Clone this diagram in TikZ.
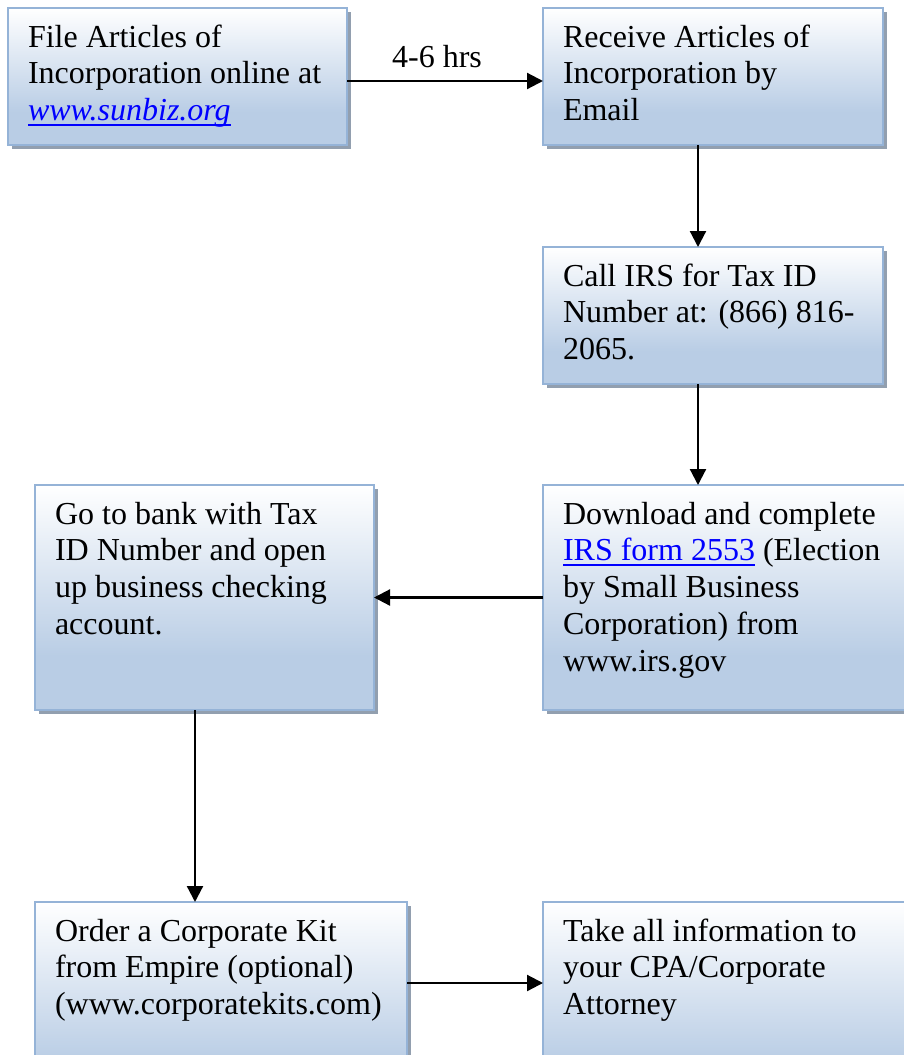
\documentclass[tikz,border=0pt]{standalone}
\usepackage{fontspec}
\setmainfont{Liberation Serif}
\usetikzlibrary{arrows.meta,shadows,calc}
\definecolor{boxblue}{HTML}{B9CDE5}
\definecolor{boxborder}{HTML}{95B3D7}
\definecolor{shadowc}{HTML}{929FAF}
\definecolor{linkblue}{HTML}{0000FF}
\pgfdeclareverticalshading{boxshade}{100bp}{color(0bp)=(boxblue); color(37bp)=(boxblue); color(75bp)=(white); color(100bp)=(white)}
\newsavebox\ulbox
\newcommand\ulink[1]{\sbox\ulbox{#1}\rlap{\rule[-5pt]{\wd\ulbox}{1.8pt}}\usebox\ulbox}
\newcommand\boxtext[3]{\parbox[t][#2][t]{#1}{\fontsize{32}{36.8}\selectfont\raggedright\rule{0pt}{30pt}#3}}
\tikzset{
  box/.style={draw=boxborder, line width=2pt, shade, shading=boxshade,
    inner xsep=20pt, inner ysep=9pt, outer sep=0pt, anchor=north west,
    drop shadow={shadow xshift=4pt, shadow yshift=-4pt, fill=shadowc, opacity=1},
    text=black},
  arr/.style={line width=2.2pt, -{Triangle[length=16pt,width=16pt]}},
  lbl/.style={font=\fontsize{32}{36.8}\selectfont, inner sep=0pt}
}
\begin{document}
\begin{tikzpicture}[x=1pt,y=-1pt]
\useasboundingbox (0,0) rectangle (904,1055);
\clip (0,0) rectangle (904,1055);
\node[box] (B1) at (8,8) {\boxtext{299pt}{119pt}{File Articles of\\Incorporation online at\\\textcolor{linkblue}{\ulink{\textit{www.sunbiz.org}}}}};
\node[box] (B2) at (543,8) {\boxtext{300pt}{119pt}{Receive Articles of\\Incorporation by\\Email}};
\node[box] (B3) at (543,247) {\boxtext{300pt}{119pt}{Call IRS for Tax ID\\Number at: (866) 816-\\2065.}};
\node[box] (B4) at (543,485) {\boxtext{330pt}{207pt}{Download and complete\\\textcolor{linkblue}{\ulink{IRS form 2553}} (Election\\by Small Business\\Corporation) from\\www.irs.gov}};
\node[box] (B5) at (35,485) {\boxtext{299pt}{207pt}{Go to bank with Tax\\ID Number and open\\up business checking\\account.}};
\node[box] (B6) at (35,902) {\boxtext{332pt}{192pt}{Order a Corporate Kit\\from Empire (optional)\\(www.corporatekits.com)}};
\node[box] (B7) at (543,902) {\boxtext{330pt}{192pt}{Take all information to\\your CPA/Corporate\\Attorney}};
\draw[arr] ([yshift=-4.5pt]B1.east) -- node[lbl, anchor=base, xshift=-8pt, yshift=14pt] (L1) {4-6 hrs} ([yshift=-4.5pt]B2.west);
\draw[arr] ([xshift=-15pt]B2.south) -- ([xshift=-15pt]B3.north);
\draw[arr] ([xshift=-15pt]B3.south) -- ([xshift=-15pt]B3.south |- B4.north);
\draw[arr] (B4.west) -- (B5.east);
\draw[arr] ([xshift=-9.5pt]B5.south) -- ([xshift=-9.5pt]B5.south |- B6.north);
\draw[arr] ([yshift=24pt]B6.east) -- ([yshift=24pt]B6.east -| B7.west);
\end{tikzpicture}
\end{document}
